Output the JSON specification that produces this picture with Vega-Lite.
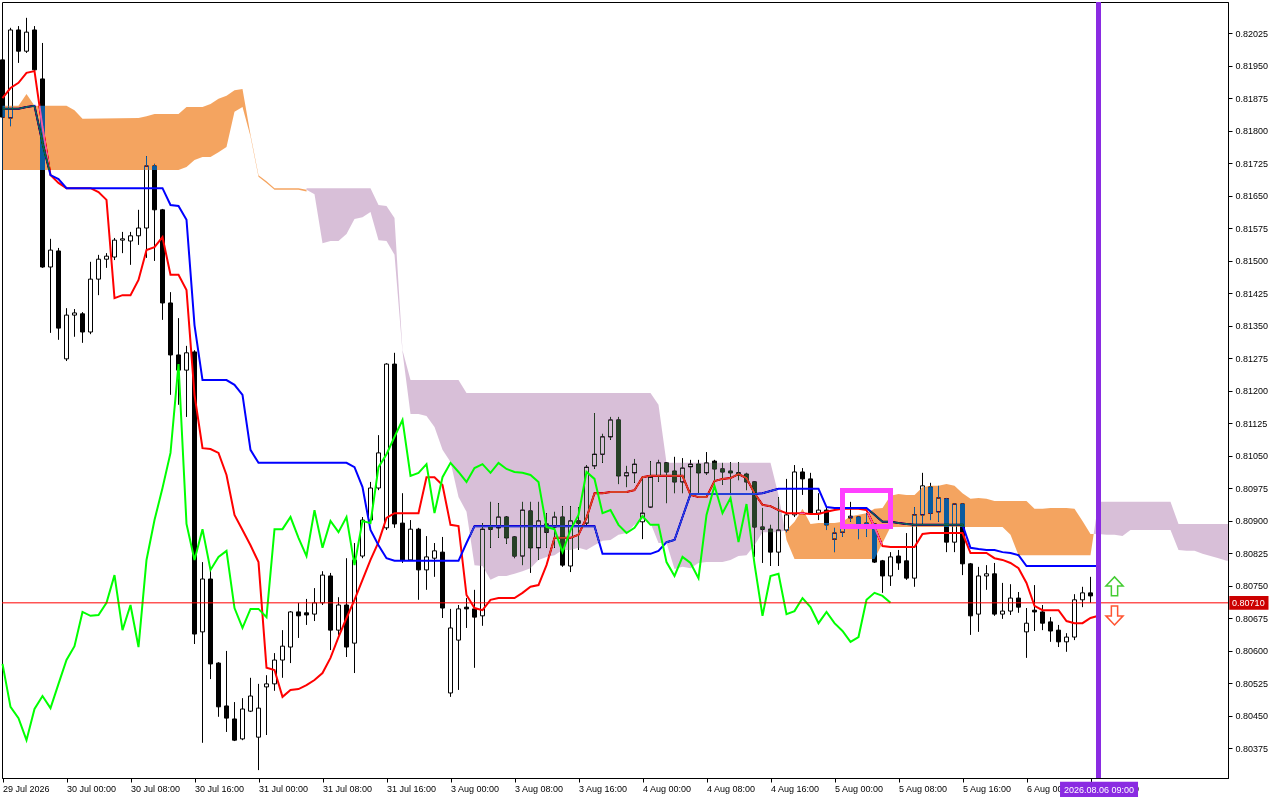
{
"$schema":"https://vega.github.io/schema/vega-lite/v6.json",
"width":1226,"height":776,
"autosize":{"type":"none"},
"padding":{"left":2,"top":2,"right":52,"bottom":22},
"background":"white",
"config":{"view":{"stroke":"black","strokeWidth":1},"scale":{"continuousPadding":0},
 "axis":{"domainColor":"black","tickColor":"black","labelColor":"black","labelFont":"Liberation Sans","labelFontSize":9,"grid":false,"labelOverlap":false},
 "axisY":{"labelOverlap":false,"labelBound":false,"tickCount":40}},
"datasets":{
"candles":[
{"i":0,"o":0.81963,"h":0.81974,"l":0.81824,"c":0.81831},
{"i":1,"o":0.81829,"h":0.82037,"l":0.81810,"c":0.82032},
{"i":2,"o":0.82032,"h":0.82041,"l":0.81956,"c":0.81983},
{"i":3,"o":0.81983,"h":0.82060,"l":0.81979,"c":0.82027},
{"i":4,"o":0.82032,"h":0.82041,"l":0.81935,"c":0.81940},
{"i":5,"o":0.81919,"h":0.82002,"l":0.81483,"c":0.81485},
{"i":6,"o":0.81485,"h":0.81550,"l":0.81333,"c":0.81524},
{"i":7,"o":0.81522,"h":0.81529,"l":0.81317,"c":0.81344},
{"i":8,"o":0.81273,"h":0.81390,"l":0.81268,"c":0.81374},
{"i":9,"o":0.81374,"h":0.81388,"l":0.81324,"c":0.81379},
{"i":10,"o":0.81377,"h":0.81381,"l":0.81310,"c":0.81335},
{"i":11,"o":0.81335,"h":0.81497,"l":0.81330,"c":0.81457},
{"i":12,"o":0.81457,"h":0.81513,"l":0.81420,"c":0.81503},
{"i":13,"o":0.81503,"h":0.81517,"l":0.81483,"c":0.81510},
{"i":14,"o":0.81508,"h":0.81552,"l":0.81501,"c":0.81547},
{"i":15,"o":0.81547,"h":0.81566,"l":0.81517,"c":0.81550},
{"i":16,"o":0.81545,"h":0.81566,"l":0.81490,"c":0.81557},
{"i":17,"o":0.81557,"h":0.81617,"l":0.81536,"c":0.81575},
{"i":18,"o":0.81575,"h":0.81741,"l":0.81506,"c":0.81718},
{"i":19,"o":0.81718,"h":0.81723,"l":0.81499,"c":0.81617},
{"i":20,"o":0.81617,"h":0.81619,"l":0.81363,"c":0.81402},
{"i":21,"o":0.81402,"h":0.81427,"l":0.81190,"c":0.81282},
{"i":22,"o":0.81282,"h":0.81367,"l":0.81167,"c":0.81247},
{"i":23,"o":0.81247,"h":0.81303,"l":0.81139,"c":0.81287},
{"i":24,"o":0.81289,"h":0.81293,"l":0.80615,"c":0.80638},
{"i":25,"o":0.80643,"h":0.80804,"l":0.80387,"c":0.80765},
{"i":26,"o":0.80765,"h":0.80786,"l":0.80534,"c":0.80569},
{"i":27,"o":0.80571,"h":0.80573,"l":0.80447,"c":0.80470},
{"i":28,"o":0.80472,"h":0.80599,"l":0.80412,"c":0.80444},
{"i":29,"o":0.80442,"h":0.80481,"l":0.80391,"c":0.80393},
{"i":30,"o":0.80396,"h":0.80490,"l":0.80393,"c":0.80465},
{"i":31,"o":0.80460,"h":0.80537,"l":0.80458,"c":0.80495},
{"i":32,"o":0.80400,"h":0.80523,"l":0.80324,"c":0.80467},
{"i":33,"o":0.80516,"h":0.80543,"l":0.80405,"c":0.80523},
{"i":34,"o":0.80523,"h":0.80594,"l":0.80507,"c":0.80578},
{"i":35,"o":0.80578,"h":0.80647,"l":0.80537,"c":0.80610},
{"i":36,"o":0.80608,"h":0.80691,"l":0.80571,"c":0.80689},
{"i":37,"o":0.80689,"h":0.80710,"l":0.80629,"c":0.80680},
{"i":38,"o":0.80687,"h":0.80719,"l":0.80659,"c":0.80682},
{"i":39,"o":0.80684,"h":0.80744,"l":0.80668,"c":0.80710},
{"i":40,"o":0.80710,"h":0.80783,"l":0.80705,"c":0.80774},
{"i":41,"o":0.80772,"h":0.80779,"l":0.80601,"c":0.80647},
{"i":42,"o":0.80647,"h":0.80723,"l":0.80636,"c":0.80705},
{"i":43,"o":0.80705,"h":0.80813,"l":0.80585,"c":0.80608},
{"i":44,"o":0.80617,"h":0.80848,"l":0.80548,"c":0.80809},
{"i":45,"o":0.80818,"h":0.80908,"l":0.80813,"c":0.80901},
{"i":46,"o":0.80901,"h":0.80989,"l":0.80897,"c":0.80975},
{"i":47,"o":0.80975,"h":0.81097,"l":0.80970,"c":0.81056},
{"i":48,"o":0.80883,"h":0.81263,"l":0.80878,"c":0.81261},
{"i":49,"o":0.81261,"h":0.81287,"l":0.80883,"c":0.80892},
{"i":50,"o":0.80894,"h":0.80963,"l":0.80802,"c":0.80809},
{"i":51,"o":0.80809,"h":0.80901,"l":0.80807,"c":0.80880},
{"i":52,"o":0.80880,"h":0.80883,"l":0.80717,"c":0.80786},
{"i":53,"o":0.80786,"h":0.80864,"l":0.80740,"c":0.80816},
{"i":54,"o":0.80813,"h":0.80848,"l":0.80770,"c":0.80830},
{"i":55,"o":0.80827,"h":0.80862,"l":0.80675,"c":0.80698},
{"i":56,"o":0.80502,"h":0.80696,"l":0.80493,"c":0.80652},
{"i":57,"o":0.80624,"h":0.80705,"l":0.80509,"c":0.80696},
{"i":58,"o":0.80700,"h":0.80721,"l":0.80652,"c":0.80696},
{"i":59,"o":0.80696,"h":0.80740,"l":0.80560,"c":0.80677},
{"i":60,"o":0.80680,"h":0.80894,"l":0.80657,"c":0.80880},
{"i":61,"o":0.80887,"h":0.80943,"l":0.80837,"c":0.80880},
{"i":62,"o":0.80883,"h":0.80940,"l":0.80860,"c":0.80908},
{"i":63,"o":0.80908,"h":0.80910,"l":0.80846,"c":0.80860},
{"i":64,"o":0.80862,"h":0.80864,"l":0.80813,"c":0.80818},
{"i":65,"o":0.80818,"h":0.80943,"l":0.80797,"c":0.80924},
{"i":66,"o":0.80922,"h":0.80943,"l":0.80779,"c":0.80837},
{"i":67,"o":0.80837,"h":0.80943,"l":0.80809,"c":0.80899},
{"i":68,"o":0.80892,"h":0.80917,"l":0.80837,"c":0.80873},
{"i":69,"o":0.80885,"h":0.80920,"l":0.80837,"c":0.80908},
{"i":70,"o":0.80908,"h":0.80933,"l":0.80793,"c":0.80797},
{"i":71,"o":0.80795,"h":0.80933,"l":0.80781,"c":0.80899},
{"i":72,"o":0.80899,"h":0.80931,"l":0.80832,"c":0.80894},
{"i":73,"o":0.80894,"h":0.81028,"l":0.80890,"c":0.81023},
{"i":74,"o":0.81026,"h":0.81148,"l":0.81019,"c":0.81053},
{"i":75,"o":0.81053,"h":0.81100,"l":0.81033,"c":0.81093},
{"i":76,"o":0.81093,"h":0.81139,"l":0.81086,"c":0.81132},
{"i":77,"o":0.81132,"h":0.81139,"l":0.80984,"c":0.81003},
{"i":78,"o":0.81003,"h":0.81026,"l":0.80977,"c":0.81010},
{"i":79,"o":0.81010,"h":0.81042,"l":0.80987,"c":0.81030},
{"i":80,"o":0.80897,"h":0.81000,"l":0.80857,"c":0.80917},
{"i":81,"o":0.80931,"h":0.81037,"l":0.80929,"c":0.81000},
{"i":82,"o":0.81003,"h":0.81040,"l":0.80989,"c":0.81033},
{"i":83,"o":0.81033,"h":0.81035,"l":0.80940,"c":0.81012},
{"i":84,"o":0.81014,"h":0.81047,"l":0.80963,"c":0.80989},
{"i":85,"o":0.80989,"h":0.81044,"l":0.80963,"c":0.81021},
{"i":86,"o":0.81024,"h":0.81040,"l":0.80954,"c":0.81030},
{"i":87,"o":0.81030,"h":0.81040,"l":0.80959,"c":0.81010},
{"i":88,"o":0.81010,"h":0.81058,"l":0.81005,"c":0.81033},
{"i":89,"o":0.81037,"h":0.81040,"l":0.80987,"c":0.81019},
{"i":90,"o":0.81019,"h":0.81033,"l":0.80982,"c":0.81012},
{"i":91,"o":0.81014,"h":0.81035,"l":0.80963,"c":0.81010},
{"i":92,"o":0.81010,"h":0.81035,"l":0.80993,"c":0.81005},
{"i":93,"o":0.81007,"h":0.81010,"l":0.80970,"c":0.80989},
{"i":94,"o":0.80989,"h":0.80991,"l":0.80816,"c":0.80885},
{"i":95,"o":0.80885,"h":0.80929,"l":0.80802,"c":0.80880},
{"i":96,"o":0.80880,"h":0.80890,"l":0.80795,"c":0.80827},
{"i":97,"o":0.80827,"h":0.80954,"l":0.80795,"c":0.80878},
{"i":98,"o":0.80878,"h":0.80996,"l":0.80873,"c":0.80913},
{"i":99,"o":0.80913,"h":0.81028,"l":0.80908,"c":0.81012},
{"i":100,"o":0.81012,"h":0.81021,"l":0.80959,"c":0.80996},
{"i":101,"o":0.80996,"h":0.81010,"l":0.80913,"c":0.80917},
{"i":102,"o":0.80917,"h":0.80963,"l":0.80901,"c":0.80924},
{"i":103,"o":0.80924,"h":0.80929,"l":0.80878,"c":0.80890},
{"i":104,"o":0.80857,"h":0.80883,"l":0.80827,"c":0.80871},
{"i":105,"o":0.80873,"h":0.80920,"l":0.80862,"c":0.80883},
{"i":106,"o":0.80906,"h":0.80943,"l":0.80897,"c":0.80910},
{"i":107,"o":0.80908,"h":0.80910,"l":0.80857,"c":0.80890},
{"i":108,"o":0.80894,"h":0.80917,"l":0.80862,"c":0.80890},
{"i":109,"o":0.80892,"h":0.80894,"l":0.80802,"c":0.80804},
{"i":110,"o":0.80807,"h":0.80809,"l":0.80733,"c":0.80772},
{"i":111,"o":0.80772,"h":0.80827,"l":0.80749,"c":0.80816},
{"i":112,"o":0.80818,"h":0.80832,"l":0.80786,"c":0.80802},
{"i":113,"o":0.80807,"h":0.80871,"l":0.80763,"c":0.80767},
{"i":114,"o":0.80767,"h":0.80931,"l":0.80747,"c":0.80913},
{"i":115,"o":0.80913,"h":0.81010,"l":0.80892,"c":0.80980},
{"i":116,"o":0.80977,"h":0.80987,"l":0.80901,"c":0.80917},
{"i":117,"o":0.80920,"h":0.80980,"l":0.80897,"c":0.80952},
{"i":118,"o":0.80950,"h":0.80952,"l":0.80827,"c":0.80850},
{"i":119,"o":0.80850,"h":0.80940,"l":0.80827,"c":0.80938},
{"i":120,"o":0.80938,"h":0.80940,"l":0.80774,"c":0.80800},
{"i":121,"o":0.80800,"h":0.80802,"l":0.80636,"c":0.80680},
{"i":122,"o":0.80684,"h":0.80793,"l":0.80643,"c":0.80772},
{"i":123,"o":0.80772,"h":0.80797,"l":0.80740,"c":0.80777},
{"i":124,"o":0.80777,"h":0.80802,"l":0.80680,"c":0.80684},
{"i":125,"o":0.80684,"h":0.80756,"l":0.80673,"c":0.80691},
{"i":126,"o":0.80691,"h":0.80753,"l":0.80682,"c":0.80721},
{"i":127,"o":0.80721,"h":0.80735,"l":0.80687,"c":0.80700},
{"i":128,"o":0.80643,"h":0.80698,"l":0.80583,"c":0.80663},
{"i":129,"o":0.80693,"h":0.80751,"l":0.80645,"c":0.80689},
{"i":130,"o":0.80689,"h":0.80705,"l":0.80647,"c":0.80663},
{"i":131,"o":0.80666,"h":0.80677,"l":0.80620,"c":0.80645},
{"i":132,"o":0.80647,"h":0.80659,"l":0.80608,"c":0.80620},
{"i":133,"o":0.80620,"h":0.80640,"l":0.80597,"c":0.80631},
{"i":134,"o":0.80631,"h":0.80730,"l":0.80624,"c":0.80717},
{"i":135,"o":0.80717,"h":0.80747,"l":0.80700,"c":0.80733},
{"i":136,"o":0.80733,"h":0.80770,"l":0.80710,"c":0.80726}
],
"ind":[
{"i":0,"t":0.81875,"k":0.81850},{"i":1,"t":0.81898,"k":0.81850},{"i":2,"t":0.81910,"k":0.81850},{"i":3,"t":0.81933,"k":0.81854},{"i":4,"t":0.81937,"k":0.81857},
{"i":5,"t":0.81808,"k":0.81771},{"i":6,"t":0.81697,"k":0.81697},{"i":7,"t":0.81679,"k":0.81688},{"i":8,"t":0.81667,"k":0.81667},{"i":9,"t":0.81667,"k":0.81667},
{"i":10,"t":0.81667,"k":0.81667},{"i":11,"t":0.81667,"k":0.81667},{"i":12,"t":0.81658,"k":0.81667},{"i":13,"t":0.81640,"k":0.81667},{"i":14,"t":0.81413,"k":0.81667},
{"i":15,"t":0.81420,"k":0.81667},{"i":16,"t":0.81420,"k":0.81667},{"i":17,"t":0.81455,"k":0.81667},{"i":18,"t":0.81524,"k":0.81667},{"i":19,"t":0.81531,"k":0.81667},
{"i":20,"t":0.81554,"k":0.81667},{"i":21,"t":0.81467,"k":0.81628},{"i":22,"t":0.81467,"k":0.81626},{"i":23,"t":0.81432,"k":0.81594},{"i":24,"t":0.81190,"k":0.81351},
{"i":25,"t":0.81067,"k":0.81224},{"i":26,"t":0.81065,"k":0.81224},{"i":27,"t":0.81056,"k":0.81224},{"i":28,"t":0.81005,"k":0.81224},{"i":29,"t":0.80913,"k":0.81213},
{"i":30,"t":0.80878,"k":0.81190},{"i":31,"t":0.80843,"k":0.81063},{"i":32,"t":0.80804,"k":0.81033},{"i":33,"t":0.80560,"k":0.81033},{"i":34,"t":0.80555,"k":0.81033},
{"i":35,"t":0.80493,"k":0.81033},{"i":36,"t":0.80509,"k":0.81033},{"i":37,"t":0.80511,"k":0.81033},{"i":38,"t":0.80520,"k":0.81033},{"i":39,"t":0.80532,"k":0.81033},
{"i":40,"t":0.80548,"k":0.81033},{"i":41,"t":0.80583,"k":0.81033},{"i":42,"t":0.80631,"k":0.81033},{"i":43,"t":0.80675,"k":0.81033},{"i":44,"t":0.80717,"k":0.81023},
{"i":45,"t":0.80763,"k":0.80977},{"i":46,"t":0.80809,"k":0.80878},{"i":47,"t":0.80850,"k":0.80843},{"i":48,"t":0.80906,"k":0.80813},{"i":49,"t":0.80917,"k":0.80807},
{"i":50,"t":0.80917,"k":0.80807},{"i":51,"t":0.80917,"k":0.80807},{"i":52,"t":0.80917,"k":0.80807},{"i":53,"t":0.81000,"k":0.80807},{"i":54,"t":0.81000,"k":0.80807},
{"i":55,"t":0.80982,"k":0.80807},{"i":56,"t":0.80890,"k":0.80807},{"i":57,"t":0.80887,"k":0.80807},{"i":58,"t":0.80728,"k":0.80848},{"i":59,"t":0.80698,"k":0.80887},
{"i":60,"t":0.80693,"k":0.80887},{"i":61,"t":0.80717,"k":0.80887},{"i":62,"t":0.80721,"k":0.80887},{"i":63,"t":0.80721,"k":0.80887},{"i":64,"t":0.80721,"k":0.80887},
{"i":65,"t":0.80733,"k":0.80887},{"i":66,"t":0.80747,"k":0.80887},{"i":67,"t":0.80751,"k":0.80887},{"i":68,"t":0.80797,"k":0.80887},{"i":69,"t":0.80860,"k":0.80887},
{"i":70,"t":0.80860,"k":0.80887},{"i":71,"t":0.80860,"k":0.80887},{"i":72,"t":0.80867,"k":0.80887},{"i":73,"t":0.80906,"k":0.80887},{"i":74,"t":0.80963,"k":0.80887},
{"i":75,"t":0.80963,"k":0.80823},{"i":76,"t":0.80966,"k":0.80823},{"i":77,"t":0.80966,"k":0.80823},{"i":78,"t":0.80966,"k":0.80823},{"i":79,"t":0.80970,"k":0.80823},
{"i":80,"t":0.81000,"k":0.80823},{"i":81,"t":0.81003,"k":0.80823},{"i":82,"t":0.81003,"k":0.80830},{"i":83,"t":0.81003,"k":0.80850},{"i":84,"t":0.81003,"k":0.80855},
{"i":85,"t":0.81003,"k":0.80908},{"i":86,"t":0.80959,"k":0.80961},{"i":87,"t":0.80954,"k":0.80961},{"i":88,"t":0.80954,"k":0.80961},{"i":89,"t":0.80991,"k":0.80961},
{"i":90,"t":0.80996,"k":0.80961},{"i":91,"t":0.80998,"k":0.80961},{"i":92,"t":0.81007,"k":0.80961},{"i":93,"t":0.80998,"k":0.80961},{"i":94,"t":0.80963,"k":0.80961},
{"i":95,"t":0.80936,"k":0.80963},{"i":96,"t":0.80933,"k":0.80968},{"i":97,"t":0.80924,"k":0.80973},{"i":98,"t":0.80917,"k":0.80973},{"i":99,"t":0.80917,"k":0.80973},
{"i":100,"t":0.80917,"k":0.80973},{"i":101,"t":0.80915,"k":0.80973},{"i":102,"t":0.80915,"k":0.80973},{"i":103,"t":0.80920,"k":0.80931},{"i":104,"t":0.80924,"k":0.80929},
{"i":105,"t":0.80927,"k":0.80929},{"i":106,"t":0.80927,"k":0.80929},{"i":107,"t":0.80927,"k":0.80929},{"i":108,"t":0.80924,"k":0.80929},{"i":109,"t":0.80885,"k":0.80913},
{"i":110,"t":0.80841,"k":0.80897},{"i":111,"t":0.80839,"k":0.80897},{"i":112,"t":0.80839,"k":0.80894},{"i":113,"t":0.80839,"k":0.80892},{"i":114,"t":0.80839,"k":0.80890},
{"i":115,"t":0.80869,"k":0.80890},{"i":116,"t":0.80871,"k":0.80890},{"i":117,"t":0.80871,"k":0.80890},{"i":118,"t":0.80871,"k":0.80890},{"i":119,"t":0.80871,"k":0.80890},
{"i":120,"t":0.80871,"k":0.80890},{"i":121,"t":0.80825,"k":0.80837},{"i":122,"t":0.80825,"k":0.80834},{"i":123,"t":0.80825,"k":0.80832},{"i":124,"t":0.80813,"k":0.80832},
{"i":125,"t":0.80809,"k":0.80827},{"i":126,"t":0.80802,"k":0.80825},{"i":127,"t":0.80790,"k":0.80820},{"i":128,"t":0.80756,"k":0.80795},{"i":129,"t":0.80703,"k":0.80795},
{"i":130,"t":0.80693,"k":0.80795},{"i":131,"t":0.80693,"k":0.80795},{"i":132,"t":0.80693,"k":0.80795},{"i":133,"t":0.80668,"k":0.80795},{"i":134,"t":0.80663,"k":0.80795},
{"i":135,"t":0.80663,"k":0.80795},{"i":136,"t":0.80675,"k":0.80795},{"i":137,"t":0.80680,"k":0.80795}
],
"chik":[
{"i":0,"v":0.80569},{"i":1,"v":0.80470},{"i":2,"v":0.80444},{"i":3,"v":0.80393},{"i":4,"v":0.80465},{"i":5,"v":0.80495},{"i":6,"v":0.80467},{"i":7,"v":0.80523},
{"i":8,"v":0.80578},{"i":9,"v":0.80610},{"i":10,"v":0.80689},{"i":11,"v":0.80680},{"i":12,"v":0.80682},{"i":13,"v":0.80710},{"i":14,"v":0.80774},{"i":15,"v":0.80647},
{"i":16,"v":0.80705},{"i":17,"v":0.80608},{"i":18,"v":0.80809},{"i":19,"v":0.80901},{"i":20,"v":0.80975},{"i":21,"v":0.81056},{"i":22,"v":0.81261},{"i":23,"v":0.80892},
{"i":24,"v":0.80809},{"i":25,"v":0.80880},{"i":26,"v":0.80786},{"i":27,"v":0.80816},{"i":28,"v":0.80830},{"i":29,"v":0.80698},{"i":30,"v":0.80652},{"i":31,"v":0.80696},
{"i":32,"v":0.80696},{"i":33,"v":0.80677},{"i":34,"v":0.80880},{"i":35,"v":0.80880},{"i":36,"v":0.80908},{"i":37,"v":0.80860},{"i":38,"v":0.80818},{"i":39,"v":0.80924},
{"i":40,"v":0.80837},{"i":41,"v":0.80899},{"i":42,"v":0.80873},{"i":43,"v":0.80908},{"i":44,"v":0.80797},{"i":45,"v":0.80899},{"i":46,"v":0.80894},{"i":47,"v":0.81023},
{"i":48,"v":0.81053},{"i":49,"v":0.81093},{"i":50,"v":0.81132},{"i":51,"v":0.81003},{"i":52,"v":0.81010},{"i":53,"v":0.81030},{"i":54,"v":0.80917},{"i":55,"v":0.81000},
{"i":56,"v":0.81033},{"i":57,"v":0.81012},{"i":58,"v":0.80989},{"i":59,"v":0.81021},{"i":60,"v":0.81030},{"i":61,"v":0.81010},{"i":62,"v":0.81033},{"i":63,"v":0.81019},
{"i":64,"v":0.81012},{"i":65,"v":0.81010},{"i":66,"v":0.81005},{"i":67,"v":0.80989},{"i":68,"v":0.80885},{"i":69,"v":0.80880},{"i":70,"v":0.80827},{"i":71,"v":0.80878},
{"i":72,"v":0.80913},{"i":73,"v":0.81012},{"i":74,"v":0.80996},{"i":75,"v":0.80917},{"i":76,"v":0.80924},{"i":77,"v":0.80890},{"i":78,"v":0.80871},{"i":79,"v":0.80883},
{"i":80,"v":0.80910},{"i":81,"v":0.80890},{"i":82,"v":0.80890},{"i":83,"v":0.80804},{"i":84,"v":0.80772},{"i":85,"v":0.80816},{"i":86,"v":0.80802},{"i":87,"v":0.80767},
{"i":88,"v":0.80913},{"i":89,"v":0.80980},{"i":90,"v":0.80917},{"i":91,"v":0.80952},{"i":92,"v":0.80850},{"i":93,"v":0.80938},{"i":94,"v":0.80800},{"i":95,"v":0.80680},
{"i":96,"v":0.80772},{"i":97,"v":0.80777},{"i":98,"v":0.80684},{"i":99,"v":0.80691},{"i":100,"v":0.80721},{"i":101,"v":0.80700},{"i":102,"v":0.80663},{"i":103,"v":0.80689},
{"i":104,"v":0.80663},{"i":105,"v":0.80645},{"i":106,"v":0.80620},{"i":107,"v":0.80631},{"i":108,"v":0.80717},{"i":109,"v":0.80733},{"i":110,"v":0.80726},{"i":111,"v":0.80710}
],
"cloud":[
{"i":0,"a":0.81857,"b":0.81709,"s":"o1","kind":"o"},{"i":1,"a":0.81857,"b":0.81709,"s":"o1","kind":"o"},{"i":2,"a":0.81857,"b":0.81709,"s":"o1","kind":"o"},
{"i":3,"a":0.81884,"b":0.81709,"s":"o1","kind":"o"},{"i":4,"a":0.81857,"b":0.81709,"s":"o1","kind":"o"},{"i":8,"a":0.81857,"b":0.81709,"s":"o1","kind":"o"},
{"i":9,"a":0.81847,"b":0.81709,"s":"o1","kind":"o"},{"i":10,"a":0.81827,"b":0.81709,"s":"o1","kind":"o"},{"i":17,"a":0.81829,"b":0.81709,"s":"o1","kind":"o"},
{"i":18,"a":0.81833,"b":0.81709,"s":"o1","kind":"o"},{"i":19,"a":0.81838,"b":0.81709,"s":"o1","kind":"o"},{"i":22,"a":0.81838,"b":0.81709,"s":"o1","kind":"o"},
{"i":23,"a":0.81854,"b":0.81716,"s":"o1","kind":"o"},{"i":24,"a":0.81854,"b":0.81732,"s":"o1","kind":"o"},{"i":25,"a":0.81854,"b":0.81739,"s":"o1","kind":"o"},
{"i":26,"a":0.81861,"b":0.81739,"s":"o1","kind":"o"},{"i":27,"a":0.81873,"b":0.81750,"s":"o1","kind":"o"},{"i":28,"a":0.81880,"b":0.81762,"s":"o1","kind":"o"},
{"i":29,"a":0.81893,"b":0.81843,"s":"o1","kind":"o"},{"i":30,"a":0.81896,"b":0.81854,"s":"o1","kind":"o"},{"i":31,"a":0.81790,"b":0.81786,"s":"o1","kind":"o"},
{"i":32,"a":0.81697,"b":0.81693,"s":"o1","kind":"o"},{"i":33,"a":0.81683,"b":0.81679,"s":"o1","kind":"o"},{"i":34,"a":0.81667,"b":0.81663,"s":"o1","kind":"o"},
{"i":37,"a":0.81667,"b":0.81663,"s":"o1","kind":"o"},{"i":38,"a":0.81663,"b":0.81659,"s":"o1","kind":"o"},
{"i":38,"a":0.81663,"b":0.81667,"s":"p1","kind":"p"},{"i":39,"a":0.81653,"b":0.81667,"s":"p1","kind":"p"},{"i":40,"a":0.81540,"b":0.81667,"s":"p1","kind":"p"},
{"i":41,"a":0.81545,"b":0.81667,"s":"p1","kind":"p"},{"i":42,"a":0.81545,"b":0.81667,"s":"p1","kind":"p"},{"i":43,"a":0.81561,"b":0.81667,"s":"p1","kind":"p"},
{"i":44,"a":0.81596,"b":0.81667,"s":"p1","kind":"p"},{"i":45,"a":0.81600,"b":0.81667,"s":"p1","kind":"p"},{"i":46,"a":0.81612,"b":0.81667,"s":"p1","kind":"p"},
{"i":47,"a":0.81547,"b":0.81628,"s":"p1","kind":"p"},{"i":48,"a":0.81545,"b":0.81626,"s":"p1","kind":"p"},{"i":49,"a":0.81513,"b":0.81598,"s":"p1","kind":"p"},
{"i":50,"a":0.81289,"b":0.81293,"s":"p1","kind":"p"},{"i":51,"a":0.81146,"b":0.81224,"s":"p1","kind":"p"},{"i":52,"a":0.81146,"b":0.81224,"s":"p1","kind":"p"},
{"i":53,"a":0.81141,"b":0.81224,"s":"p1","kind":"p"},{"i":54,"a":0.81116,"b":0.81224,"s":"p1","kind":"p"},{"i":55,"a":0.81063,"b":0.81224,"s":"p1","kind":"p"},
{"i":56,"a":0.81035,"b":0.81224,"s":"p1","kind":"p"},{"i":57,"a":0.80954,"b":0.81224,"s":"p1","kind":"p"},{"i":58,"a":0.80920,"b":0.81194,"s":"p1","kind":"p"},
{"i":59,"a":0.80797,"b":0.81194,"s":"p1","kind":"p"},{"i":60,"a":0.80795,"b":0.81194,"s":"p1","kind":"p"},{"i":61,"a":0.80763,"b":0.81194,"s":"p1","kind":"p"},
{"i":62,"a":0.80772,"b":0.81194,"s":"p1","kind":"p"},{"i":63,"a":0.80772,"b":0.81194,"s":"p1","kind":"p"},{"i":64,"a":0.80777,"b":0.81194,"s":"p1","kind":"p"},
{"i":65,"a":0.80783,"b":0.81194,"s":"p1","kind":"p"},{"i":66,"a":0.80790,"b":0.81194,"s":"p1","kind":"p"},{"i":67,"a":0.80809,"b":0.81194,"s":"p1","kind":"p"},
{"i":68,"a":0.80816,"b":0.81194,"s":"p1","kind":"p"},{"i":69,"a":0.80820,"b":0.81194,"s":"p1","kind":"p"},{"i":70,"a":0.80832,"b":0.81194,"s":"p1","kind":"p"},
{"i":71,"a":0.80832,"b":0.81194,"s":"p1","kind":"p"},{"i":72,"a":0.80837,"b":0.81194,"s":"p1","kind":"p"},{"i":73,"a":0.80832,"b":0.81194,"s":"p1","kind":"p"},
{"i":74,"a":0.80843,"b":0.81194,"s":"p1","kind":"p"},{"i":75,"a":0.80853,"b":0.81194,"s":"p1","kind":"p"},{"i":76,"a":0.80855,"b":0.81194,"s":"p1","kind":"p"},
{"i":77,"a":0.80867,"b":0.81194,"s":"p1","kind":"p"},{"i":78,"a":0.80871,"b":0.81194,"s":"p1","kind":"p"},{"i":79,"a":0.80890,"b":0.81194,"s":"p1","kind":"p"},
{"i":80,"a":0.80903,"b":0.81194,"s":"p1","kind":"p"},{"i":81,"a":0.80894,"b":0.81194,"s":"p1","kind":"p"},{"i":82,"a":0.80848,"b":0.81167,"s":"p1","kind":"p"},
{"i":83,"a":0.80848,"b":0.81033,"s":"p1","kind":"p"},{"i":84,"a":0.80788,"b":0.81033,"s":"p1","kind":"p"},{"i":85,"a":0.80793,"b":0.81033,"s":"p1","kind":"p"},
{"i":86,"a":0.80790,"b":0.81033,"s":"p1","kind":"p"},{"i":87,"a":0.80802,"b":0.81033,"s":"p1","kind":"p"},{"i":88,"a":0.80804,"b":0.81033,"s":"p1","kind":"p"},
{"i":90,"a":0.80804,"b":0.81033,"s":"p1","kind":"p"},{"i":91,"a":0.80809,"b":0.81033,"s":"p1","kind":"p"},{"i":92,"a":0.80818,"b":0.81033,"s":"p1","kind":"p"},
{"i":93,"a":0.80820,"b":0.81033,"s":"p1","kind":"p"},{"i":94,"a":0.80843,"b":0.81033,"s":"p1","kind":"p"},{"i":95,"a":0.80873,"b":0.81033,"s":"p1","kind":"p"},
{"i":96,"a":0.80873,"b":0.81033,"s":"p1","kind":"p"},{"i":97,"a":0.80873,"b":0.80959,"s":"p1","kind":"p"},{"i":97.8,"a":0.80877,"b":0.80877,"s":"p1","kind":"p"},
{"i":97.8,"a":0.80877,"b":0.80877,"s":"o2","kind":"o"},{"i":98,"a":0.80878,"b":0.80855,"s":"o2","kind":"o"},{"i":99,"a":0.80897,"b":0.80811,"s":"o2","kind":"o"},
{"i":100,"a":0.80927,"b":0.80811,"s":"o2","kind":"o"},{"i":101,"a":0.80892,"b":0.80811,"s":"o2","kind":"o"},{"i":102,"a":0.80894,"b":0.80811,"s":"o2","kind":"o"},
{"i":104,"a":0.80894,"b":0.80811,"s":"o2","kind":"o"},{"i":105,"a":0.80897,"b":0.80811,"s":"o2","kind":"o"},{"i":106,"a":0.80910,"b":0.80811,"s":"o2","kind":"o"},
{"i":107,"a":0.80913,"b":0.80811,"s":"o2","kind":"o"},{"i":108,"a":0.80917,"b":0.80811,"s":"o2","kind":"o"},{"i":109,"a":0.80927,"b":0.80811,"s":"o2","kind":"o"},
{"i":110,"a":0.80929,"b":0.80848,"s":"o2","kind":"o"},{"i":111,"a":0.80957,"b":0.80885,"s":"o2","kind":"o"},{"i":112,"a":0.80961,"b":0.80885,"s":"o2","kind":"o"},
{"i":113,"a":0.80959,"b":0.80885,"s":"o2","kind":"o"},{"i":114,"a":0.80959,"b":0.80885,"s":"o2","kind":"o"},{"i":115,"a":0.80977,"b":0.80885,"s":"o2","kind":"o"},
{"i":116,"a":0.80980,"b":0.80885,"s":"o2","kind":"o"},{"i":117,"a":0.80980,"b":0.80885,"s":"o2","kind":"o"},{"i":118,"a":0.80984,"b":0.80885,"s":"o2","kind":"o"},
{"i":119,"a":0.80980,"b":0.80885,"s":"o2","kind":"o"},{"i":120,"a":0.80963,"b":0.80885,"s":"o2","kind":"o"},{"i":121,"a":0.80950,"b":0.80885,"s":"o2","kind":"o"},
{"i":122,"a":0.80952,"b":0.80885,"s":"o2","kind":"o"},{"i":123,"a":0.80950,"b":0.80885,"s":"o2","kind":"o"},{"i":124,"a":0.80945,"b":0.80885,"s":"o2","kind":"o"},
{"i":125,"a":0.80945,"b":0.80885,"s":"o2","kind":"o"},{"i":126,"a":0.80945,"b":0.80867,"s":"o2","kind":"o"},{"i":127,"a":0.80945,"b":0.80820,"s":"o2","kind":"o"},
{"i":128,"a":0.80945,"b":0.80820,"s":"o2","kind":"o"},{"i":129,"a":0.80927,"b":0.80820,"s":"o2","kind":"o"},{"i":130,"a":0.80927,"b":0.80820,"s":"o2","kind":"o"},
{"i":131,"a":0.80929,"b":0.80820,"s":"o2","kind":"o"},{"i":133,"a":0.80929,"b":0.80820,"s":"o2","kind":"o"},{"i":134,"a":0.80927,"b":0.80820,"s":"o2","kind":"o"},
{"i":135,"a":0.80899,"b":0.80820,"s":"o2","kind":"o"},{"i":136,"a":0.80869,"b":0.80820,"s":"o2","kind":"o"},{"i":136.4,"a":0.80869,"b":0.80869,"s":"o2","kind":"o"},
{"i":136.4,"a":0.80869,"b":0.80869,"s":"p2","kind":"p"},{"i":137,"a":0.80869,"b":0.80943,"s":"p2","kind":"p"},{"i":138,"a":0.80867,"b":0.80943,"s":"p2","kind":"p"},
{"i":139,"a":0.80867,"b":0.80943,"s":"p2","kind":"p"},{"i":140,"a":0.80864,"b":0.80943,"s":"p2","kind":"p"},{"i":141,"a":0.80878,"b":0.80943,"s":"p2","kind":"p"},
{"i":146,"a":0.80878,"b":0.80943,"s":"p2","kind":"p"},{"i":147,"a":0.80832,"b":0.80892,"s":"p2","kind":"p"},{"i":148,"a":0.80830,"b":0.80892,"s":"p2","kind":"p"},
{"i":149,"a":0.80830,"b":0.80892,"s":"p2","kind":"p"},{"i":150,"a":0.80823,"b":0.80892,"s":"p2","kind":"p"},{"i":151,"a":0.80818,"b":0.80892,"s":"p2","kind":"p"},
{"i":152,"a":0.80813,"b":0.80892,"s":"p2","kind":"p"},{"i":153,"a":0.80807,"b":0.80892,"s":"p2","kind":"p"},{"i":153.18,"a":0.80807,"b":0.80892,"s":"p2","kind":"p"}
]
},
"encoding":{"x":{"field":"i","type":"quantitative","title":null,"scale":{"domain":[-0.0625,153.1875],"nice":false,"zero":false,"padding":0},
 "axis":{"values":[0,8,16,24,32,40,48,56,64,72,80,88,96,104,112,120,128,136],"tickCount":40,"labelExpr":"['29 Jul 2026','30 Jul 00:00','30 Jul 08:00','30 Jul 16:00','31 Jul 00:00','31 Jul 08:00','31 Jul 16:00','3 Aug 00:00','3 Aug 08:00','3 Aug 16:00','4 Aug 00:00','4 Aug 08:00','4 Aug 16:00','5 Aug 00:00','5 Aug 08:00','5 Aug 16:00','6 Aug 00:00','6 Aug 08:00'][round(datum.value/8)]","labelAlign":"left","labelPadding":2,"tickSize":4,"labelOverlap":false,"labelFlush":false,"labelBound":false,"title":null}}},
"layer":[
{"data":{"name":"candles"},"mark":{"type":"rule","color":"black","strokeWidth":1},
 "encoding":{"y":{"field":"l","type":"quantitative","title":null,"scale":{"domain":[0.8030577,0.8209654],"nice":false,"zero":false,"padding":0},
  "axis":{"orient":"right","title":null,"values":[0.80375,0.8045,0.80525,0.806,0.80675,0.8075,0.80825,0.809,0.80975,0.8105,0.81125,0.812,0.81275,0.8135,0.81425,0.815,0.81575,0.8165,0.81725,0.818,0.81875,0.8195,0.82025],"tickCount":40,"format":".5f","tickSize":4,"labelPadding":3,"labelOverlap":false,"labelBound":false}},
  "y2":{"field":"h"}}},
{"data":{"name":"candles"},"mark":{"type":"bar","width":4,"stroke":"black","strokeWidth":1},
 "encoding":{"y":{"field":"o","type":"quantitative","title":null,"scale":{"domain":[0.8030577,0.8209654],"nice":false,"zero":false,"padding":0}},"y2":{"field":"c"},
  "fill":{"condition":{"test":"datum.c >= datum.o","value":"white"},"value":"black"}}},
{"data":{"name":"ind"},"mark":{"type":"line","color":"#FF0000","strokeWidth":2},
 "encoding":{"y":{"field":"t","type":"quantitative","title":null,"scale":{"domain":[0.8030577,0.8209654],"nice":false,"zero":false,"padding":0}}}},
{"data":{"name":"ind"},"mark":{"type":"line","color":"#0000FF","strokeWidth":2},
 "encoding":{"y":{"field":"k","type":"quantitative","title":null,"scale":{"domain":[0.8030577,0.8209654],"nice":false,"zero":false,"padding":0}}}},
{"data":{"name":"cloud"},"transform":[{"filter":"datum.kind == 'o'"}],"mark":{"type":"area","fill":"#0B5B9F","blend":"difference","opacity":1},
 "encoding":{"y":{"field":"a","type":"quantitative","title":null,"scale":{"domain":[0.8030577,0.8209654],"nice":false,"zero":false,"padding":0}},"y2":{"field":"b"},"detail":{"field":"s"}}},
{"data":{"name":"cloud"},"transform":[{"filter":"datum.kind == 'p'"}],"mark":{"type":"area","fill":"#274027","blend":"difference","opacity":1},
 "encoding":{"y":{"field":"a","type":"quantitative","title":null,"scale":{"domain":[0.8030577,0.8209654],"nice":false,"zero":false,"padding":0}},"y2":{"field":"b"},"detail":{"field":"s"}}},
{"data":{"name":"chik"},"mark":{"type":"line","color":"#00FF00","strokeWidth":2},
 "encoding":{"y":{"field":"v","type":"quantitative","title":null,"scale":{"domain":[0.8030577,0.8209654],"nice":false,"zero":false,"padding":0}}}},
{"data":{"values":[{"p":0.8071}]},"mark":{"type":"rule","color":"#FF0000","strokeWidth":1},
 "encoding":{"x":null,"y":{"field":"p","type":"quantitative","title":null,"scale":{"domain":[0.8030577,0.8209654],"nice":false,"zero":false,"padding":0}}}},
{"data":{"values":[{"i":105,"i2":111,"p":0.80969,"p2":0.80886}]},"mark":{"type":"rect","fill":null,"fillOpacity":0,"stroke":"#FF40FF","strokeWidth":5},
 "encoding":{"x2":{"field":"i2"},"y":{"field":"p","type":"quantitative","title":null,"scale":{"domain":[0.8030577,0.8209654],"nice":false,"zero":false,"padding":0}},"y2":{"field":"p2"}}},
{"data":{"values":[{"i":137}]},"mark":{"type":"rule","color":"#8A2BE2","strokeWidth":5},"encoding":{}},
{"data":{"values":[{"i":139,"p":0.80748}]},"mark":{"type":"point","shape":"M0,-1L0.9,-0.05L0.33,-0.05L0.33,1L-0.33,1L-0.33,-0.05L-0.9,-0.05Z","size":361,"filled":false,"fill":"white","stroke":"#44CC33","strokeWidth":1.5,"opacity":1},
 "encoding":{"y":{"field":"p","type":"quantitative","title":null,"scale":{"domain":[0.8030577,0.8209654],"nice":false,"zero":false,"padding":0}}}},
{"data":{"values":[{"i":139,"p":0.80681}]},"mark":{"type":"point","shape":"M0,1L0.9,0.05L0.33,0.05L0.33,-1L-0.33,-1L-0.33,0.05L-0.9,0.05Z","size":361,"filled":false,"fill":"white","stroke":"#FF5533","strokeWidth":1.5,"opacity":1},
 "encoding":{"y":{"field":"p","type":"quantitative","title":null,"scale":{"domain":[0.8030577,0.8209654],"nice":false,"zero":false,"padding":0}}}},
{"data":{"values":[{"i":153.35,"i2":158.25,"p":0.80726,"p2":0.80694}]},"mark":{"type":"rect","fill":"#CC0000","clip":false},
 "encoding":{"x2":{"field":"i2"},"y":{"field":"p","type":"quantitative","title":null,"scale":{"domain":[0.8030577,0.8209654],"nice":false,"zero":false,"padding":0}},"y2":{"field":"p2"}}},
{"data":{"values":[{"i":153.7,"p":0.8071,"txt":"0.80710"}]},"mark":{"type":"text","align":"left","baseline":"middle","color":"white","font":"Liberation Sans","fontSize":9},
 "encoding":{"text":{"field":"txt"},"y":{"field":"p","type":"quantitative","title":null,"scale":{"domain":[0.8030577,0.8209654],"nice":false,"zero":false,"padding":0}}}},
{"data":{"values":[{"i":132.19,"i2":141.94,"p":0.80297,"p2":0.80262}]},"mark":{"type":"rect","fill":"#8A2BE2","clip":false},
 "encoding":{"x2":{"field":"i2"},"y":{"field":"p","type":"quantitative","title":null,"scale":{"domain":[0.8030577,0.8209654],"nice":false,"zero":false,"padding":0}},"y2":{"field":"p2"}}},
{"data":{"values":[{"i":137.06,"p":0.80279,"txt":"2026.08.06 09:00"}]},"mark":{"type":"text","align":"center","baseline":"middle","color":"white","font":"Liberation Sans","fontSize":9},
 "encoding":{"text":{"field":"txt"},"y":{"field":"p","type":"quantitative","title":null,"scale":{"domain":[0.8030577,0.8209654],"nice":false,"zero":false,"padding":0}}}}
]
}
